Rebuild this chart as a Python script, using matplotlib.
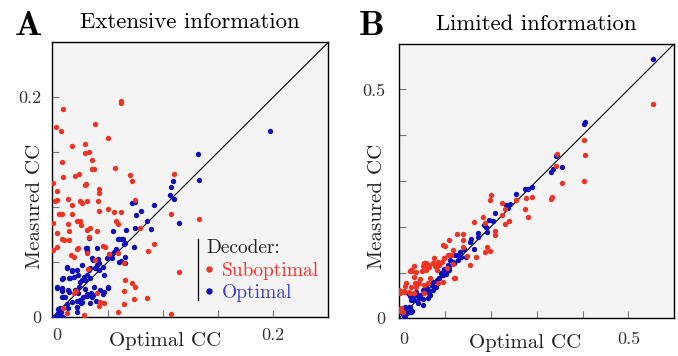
import matplotlib
matplotlib.use("Agg")
import matplotlib.pyplot as plt
from matplotlib.lines import Line2D

plt.rcParams['font.family'] = ['cmr10', 'DejaVu Serif']
plt.rcParams['mathtext.fontset'] = 'cm'
plt.rcParams['axes.unicode_minus'] = False

# ---------------- data ----------------
# Panel A: Extensive information
a_sub_x = [0.062, 0.062, 0.0097, 0.0036, 0.0076, 0.0385, 0.0503, 0.0179, 0.0294, 0.0297,
           0.033, 0.0091, 0.0364, 0.0358, 0.0379, 0.0564, 0.070, 0.0718, 0.110, 0.001,
           0.024, 0.0203, 0.0094, 0.0306, 0.0297, 0.0427, 0.0424, 0.0045, 0.004, 0.0027,
           0.0142, 0.0255, 0.027, 0.0318, 0.0415, 0.0182, 0.0064, 0.0088, 0.0179, 0.0424,
           0.0509, 0.056, 0.0624, 0.1079, 0.001, 0.0139, 0.0227, 0.0248, 0.0264, 0.0576,
           0.0597, 0.004, 0.0155, 0.0315, 0.0409, 0.0345, 0.0797, 0.0088, 0.0103, 0.0148,
           0.0336, 0.046, 0.0479, 0.0921, 0.001, 0.004, 0.017, 0.0197, 0.023, 0.0227,
           0.0312, 0.0388, 0.0512, 0.0594, 0.0867, 0.1327, 0.1145, 0.0645, 0.0324, 0.0655,
           0.0721, 0.0752, 0.0406, 0.0436, 0.0215, 0.0197, 0.0652, 0.0736, 0.0855, 0.0464,
           0.0424, 0.0648, 0.0136, 0.0285, 0.0591, 0.1076, 0.0097, 0.0748]
a_sub_y = [0.197, 0.195, 0.189, 0.173, 0.169, 0.176, 0.163, 0.156, 0.158, 0.149,
           0.150, 0.1415, 0.143, 0.135, 0.135, 0.136, 0.129, 0.124, 0.130, 0.122,
           0.130, 0.1285, 0.128, 0.121, 0.120, 0.117, 0.113, 0.115, 0.107, 0.106,
           0.108, 0.106, 0.104, 0.106, 0.106, 0.102, 0.0936, 0.0942, 0.0942, 0.0967,
           0.0988, 0.0955, 0.0955, 0.0936, 0.086, 0.085, 0.088, 0.0876, 0.084, 0.0876,
           0.0848, 0.077, 0.0785, 0.0794, 0.0782, 0.081, 0.081, 0.0709, 0.0703, 0.0703,
           0.0727, 0.0652, 0.0642, 0.0664, 0.0612, 0.0636, 0.0564, 0.0552, 0.0633, 0.0621,
           0.0588, 0.0518, 0.0573, 0.0588, 0.0606, 0.0897, 0.0415, 0.0491, 0.0436, 0.0339,
           0.0309, 0.0273, 0.0218, 0.0139, 0.0242, 0.0224, 0.0239, 0.0167, 0.0179, 0.0127,
           0.0103, 0.0124, 0.0036, 0.0018, 0.0045, 0.0027, 0.0082, 0.1067]
a_opt_x = [0.1973, 0.1324, 0.1327, 0.1097, 0.1076, 0.1064, 0.1106, 0.1145, 0.0745, 0.0724,
           0.080, 0.0918, 0.0755, 0.0861, 0.0894, 0.0752, 0.0664, 0.0548, 0.0594, 0.0636,
           0.0661, 0.0742, 0.0333, 0.0306, 0.0318, 0.0409, 0.0573, 0.0515, 0.0536, 0.0603,
           0.0624, 0.0655, 0.0655, 0.013, 0.0267, 0.0361, 0.0415, 0.0427, 0.0397, 0.0455,
           0.047, 0.0333, 0.0176, 0.0197, 0.0091, 0.0152, 0.0288, 0.0248, 0.0318, 0.0039,
           0.0088, 0.0148, 0.0242, 0.0294, 0.0312, 0.0348, 0.0382, 0.050, 0.0091, 0.0115,
           0.0133, 0.0227, 0.0252, 0.0318, 0.0361, 0.0048, 0.0079, 0.0221, 0.0227, 0.0258,
           0.0342, 0.0015, 0.0039, 0.007, 0.010, 0.0394, 0.0455,
           0.060, 0.063, 0.065, 0.0313, 0.0555, 0.0525, 0.0495, 0.054, 0.0373, 0.0404,
           0.0343, 0.0388, 0.0419, 0.0131, 0.0176, 0.0222, 0.0236, 0.0161, 0.010, 0.0343,
           0.0297, 0.0267, 0.004, 0.0085, 0.0146, 0.0206, 0.0236, 0.0373, 0.0282, 0.0358,
           0.010, 0.0464, 0.0509, 0.0434, 0.007, 0.0055, 0.0145, 0.0222, 0.0267, 0.0176]
a_opt_y = [0.1694, 0.1485, 0.1245, 0.1236, 0.1188, 0.1115, 0.1079, 0.086, 0.1045, 0.1036,
           0.097, 0.1018, 0.093, 0.0873, 0.0806, 0.0815, 0.0797, 0.0788, 0.0712, 0.0712,
           0.0679, 0.0639, 0.0724, 0.0627, 0.0603, 0.063, 0.0618, 0.0576, 0.0564, 0.0506,
           0.0509, 0.0494, 0.0552, 0.0455, 0.0476, 0.0536, 0.0527, 0.0491, 0.0445, 0.0461,
           0.0382, 0.043, 0.0424, 0.0364, 0.0345, 0.0355, 0.0364, 0.0324, 0.0385, 0.027,
           0.0242, 0.023, 0.0279, 0.0255, 0.0212, 0.0218, 0.0279, 0.0273, 0.0188, 0.0182,
           0.0121, 0.0152, 0.0158, 0.0194, 0.0197, 0.0076, 0.0045, 0.0091, 0.0052, 0.0133,
           0.0133, 0.0006, 0.0006, 0.0021, 0.0006, 0.0148, 0.0209,
           0.071, 0.0716, 0.067, 0.0626, 0.0595, 0.0565, 0.0535, 0.0535, 0.052, 0.0474,
           0.0444, 0.0444, 0.0429, 0.045, 0.0429, 0.0429, 0.0383, 0.0354, 0.0354, 0.0354,
           0.0338, 0.0338, 0.0277, 0.0263, 0.0248, 0.0248, 0.0218, 0.0202, 0.0187, 0.0187,
           0.0187, 0.0232, 0.0263, 0.0248, 0.0082, 0.0036, 0.0082, 0.0096, 0.0141, 0.0141]

# Panel B: Limited information
b_sub_x = [0.553, 0.4036, 0.4043, 0.3442, 0.3428, 0.3543, 0.4029, 0.334, 0.3312, 0.2906,
           0.2819, 0.2739, 0.200, 0.1993, 0.2254, 0.2312, 0.2246, 0.2406, 0.2319, 0.1833,
           0.163, 0.1877, 0.2094, 0.2087, 0.1913, 0.1978, 0.1884, 0.1674, 0.1543, 0.1478,
           0.1254, 0.1399, 0.1399, 0.1087, 0.0964, 0.1007, 0.1384, 0.1174, 0.1138, 0.1058,
           0.0928, 0.0754, 0.0594, 0.0783, 0.0819, 0.0652, 0.0601, 0.0514, 0.0507, 0.0319,
           0.0239, 0.029, 0.0978, 0.0862, 0.121, 0.0949, 0.0841, 0.0681, 0.0457, 0.0355,
           0.0399, 0.0254, 0.0138, 0.0029, 0.0109, 0.0239, 0.0326, 0.0036, 0.001, 0.0022,
           0.1036, 0.1167, 0.2761, 0.2543, 0.0551,
           0.0007, 0.0115, 0.0224, 0.037, 0.0441, 0.055, 0.0624, 0.0152, 0.0333, 0.037,
           0.0587, 0.0261, 0.055, 0.0659, 0.0732, 0.0841, 0.0985, 0.1093, 0.1202, 0.0007,
           0.008]
b_sub_y = [0.4672, 0.3886, 0.3574, 0.3588, 0.3333, 0.2955, 0.2991, 0.2656, 0.2606, 0.2649,
           0.2213, 0.238, 0.2693, 0.2584, 0.2511, 0.2394, 0.2249, 0.2132, 0.206, 0.2205,
           0.2103, 0.2074, 0.1907, 0.1812, 0.1565, 0.1477, 0.1448, 0.1339, 0.1157, 0.1361,
           0.1841, 0.1841, 0.171, 0.1718, 0.1601, 0.1579, 0.155, 0.1492, 0.1376, 0.1383,
           0.1237, 0.131, 0.1208, 0.1143, 0.1055, 0.1128, 0.1099, 0.1143, 0.1041, 0.115,
           0.1041, 0.1041, 0.131, 0.1164, 0.0873, 0.0801, 0.0764, 0.0873, 0.0852, 0.0764,
           0.0779, 0.0691, 0.0713, 0.0597, 0.0597, 0.056, 0.0546, 0.0218, 0.0167, 0.0546,
           0.1106, 0.1194, 0.2635, 0.2584, 0.0546,
           0.0618, 0.0581, 0.0581, 0.069, 0.0764, 0.0727, 0.0764, 0.0764, 0.0908, 0.1017,
           0.1055, 0.1055, 0.1201, 0.1164, 0.1201, 0.1237, 0.131, 0.1382, 0.0873, 0.0181,
           0.0144]
b_opt_x = [0.553, 0.4043, 0.4036, 0.3435, 0.3413, 0.3355, 0.3312, 0.3543, 0.2891, 0.2819,
           0.2746, 0.2551, 0.242, 0.2377, 0.2326, 0.2094, 0.2043, 0.1964, 0.1891, 0.1855,
           0.1913, 0.1717, 0.1732, 0.1565, 0.1543, 0.1413, 0.1326, 0.129, 0.1645, 0.1457,
           0.121, 0.1109, 0.1181, 0.1058, 0.0978, 0.1022, 0.0949, 0.0906, 0.0819, 0.071,
           0.0761, 0.0674, 0.0587, 0.0529, 0.0457, 0.0428, 0.0384, 0.0355, 0.0297, 0.0203,
           0.0246, 0.0138, 0.0283, 0.0167, 0.0043, 0.0138, 0.0094, 0.0239, 0.0514, 0.0638,
           0.1203, 0.1094, 0.0877, 0.0623, 0.0442, 0.0261, 0.0225,
           0.037, 0.0441, 0.0333, 0.0407, 0.0515, 0.0624, 0.0659, 0.0732, 0.0804, 0.0261,
           0.0152, 0.0224, 0.0115, 0.0732, 0.0876, 0.1022, 0.1093, 0.1202, 0.1276, 0.1348]
b_opt_y = [0.5655, 0.4287, 0.425, 0.3574, 0.3544, 0.326, 0.3188, 0.3297, 0.286, 0.2824,
           0.2824, 0.2722, 0.2489, 0.2409, 0.2475, 0.2307, 0.2125, 0.2147, 0.2001, 0.2031,
           0.1892, 0.1856, 0.1769, 0.1732, 0.1674, 0.1514, 0.1441, 0.139, 0.1507, 0.1346,
           0.1383, 0.1274, 0.1237, 0.1164, 0.107, 0.0968, 0.0946, 0.0983, 0.0837, 0.072,
           0.0677, 0.0509, 0.0691, 0.0415, 0.0502, 0.0451, 0.0509, 0.0546, 0.0437, 0.0546,
           0.0495, 0.0255, 0.0153, 0.0109, 0.0146, 0.0036, 0.0182, 0.0255, 0.0619, 0.0619,
           0.1201, 0.1055, 0.0873, 0.0619, 0.0473, 0.040, 0.0255,
           0.0581, 0.0472, 0.040, 0.0327, 0.029, 0.0437, 0.0546, 0.0618, 0.069, 0.0144,
           0.0109, 0.0218, 0.0035, 0.0799, 0.0873, 0.0983, 0.1092, 0.1201, 0.1273, 0.1346]

a_ticks = [0, 0.05, 0.10, 0.15, 0.20]
a_ticklabels = ['0', '', '', '', '0.2']
b_ticks = [0, 0.1, 0.2, 0.3, 0.4, 0.5]
b_ticklabels = ['0', '', '', '', '', '0.5']

RED = '#ee3322'
BLUE = '#1010bb'

fig = plt.figure(figsize=(6.78, 3.56), dpi=100)
axA = fig.add_axes([52.3 / 678, (356 - 317.3) / 356, 276 / 678, 275 / 356])
axB = fig.add_axes([399 / 678, (356 - 318.3) / 356, 275.3 / 678, 274.6 / 356])


def style(ax, lim, ticks, labels, xpad, ypad):
    ax.set_facecolor('#f4f4f4')
    ax.axline((0, 0), slope=1, color='black', lw=0.8, zorder=1)
    ax.set_xlim(0, lim)
    ax.set_ylim(0, lim)
    ax.set_xticks(ticks, labels)
    ax.set_yticks(ticks, labels)
    for s in ax.spines.values():
        s.set_color('black')
        s.set_linewidth(1.0)
    ax.tick_params(direction='in', length=5, width=0.8, color='#777777',
                   labelsize=13, labelcolor='#333333')
    ax.tick_params(axis='x', pad=xpad)
    ax.tick_params(axis='y', pad=ypad)
    ax.get_xticklabels()[0].set_ha('left')


for ax, sx, sy, ox, oy in [(axA, a_sub_x, a_sub_y, a_opt_x, a_opt_y),
                           (axB, b_sub_x, b_sub_y, b_opt_x, b_opt_y)]:
    ax.scatter(ox, oy, s=15, color=BLUE, linewidths=0, zorder=3)
    ax.scatter(sx, sy, s=15, color=RED, linewidths=0, zorder=3)

style(axA, 0.25, a_ticks, a_ticklabels, 7.5, 8)
style(axB, 0.6, b_ticks, b_ticklabels, 9.5, 10)

for ax, title in [(axA, 'Extensive information'), (axB, 'Limited information')]:
    ax.set_title(title, fontsize=16.4, pad=10)
    ax.set_xlabel('Optimal CC', fontsize=15, color='#222222')
    ax.set_ylabel('Measured CC', fontsize=15, color='#222222')

axA.xaxis.set_label_coords(0.41, -0.053)
axA.yaxis.set_label_coords(-0.030, 0.405)
axB.xaxis.set_label_coords(0.458, -0.057)
axB.yaxis.set_label_coords(-0.047, 0.409)

fig.text(15 / 678, 1 - 35 / 356, 'A', fontfamily='cmb10', fontsize=26, va='baseline', ha='left')
fig.text(359 / 678, 1 - 35 / 356, 'B', fontfamily='cmb10', fontsize=26, va='baseline', ha='left')

# legend
handles = [Line2D([], [], marker='o', ls='', color=RED, ms=3.6),
           Line2D([], [], marker='o', ls='', color=BLUE, ms=3.6)]
leg = axA.legend(handles, ['Suboptimal', 'Optimal'], title='Decoder:', loc='upper left',
                 bbox_to_anchor=(0.558, 0.283), frameon=False, borderpad=0,
                 handlelength=0.3, handletextpad=0.5, labelspacing=0.22,
                 fontsize=14, title_fontsize=14, alignment='left',
                 labelcolor=['#ff2a2a', '#3a3acc'], borderaxespad=0)
leg.get_title().set_color('#222222')
axA.plot([0.527, 0.527], [0.063, 0.285], transform=axA.transAxes, color='black', lw=0.9)

fig.savefig('out.png', dpi=100)
